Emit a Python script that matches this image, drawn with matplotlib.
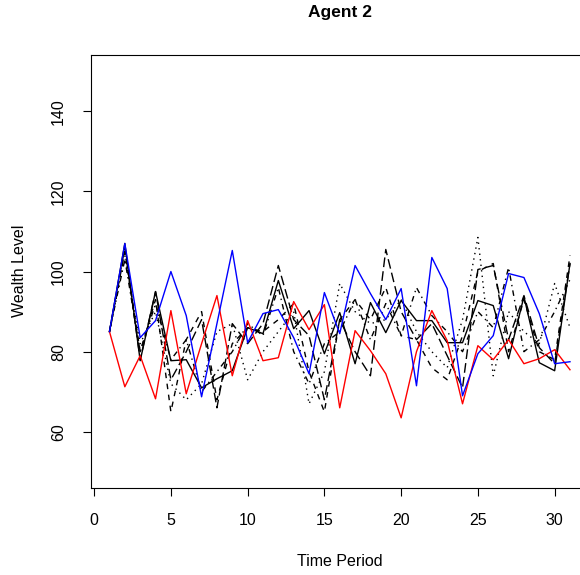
import matplotlib.pyplot as plt
import numpy as np

plt.rcParams["font.family"] = ["Liberation Sans", "DejaVu Sans"]

periods = np.arange(1, 32)

wealth_blue = [85, 107, 83.5, 87.75, 100, 89, 68.75, 87, 105.25, 82.25, 89.5, 90.5, 83.5,
               74.5, 94.75, 84.5, 101.5, 94.5, 88, 95.75, 71.5, 103.5, 95.75, 69, 79.5,
               84, 99.5, 98.5, 89.5, 77, 77.5]
wealth_red = [85, 71.25, 79, 68.25, 90.25, 69.5, 82, 94, 74, 87.75, 77.75, 78.5, 92.5,
              85.5, 91.75, 66, 85.25, 80.25, 74.5, 63.5, 80, 90.25, 82.75, 67, 81.5,
              78, 83, 77, 78.25, 80.5, 75.5]
wealth_solid = [85, 107, 77.75, 95, 77.75, 78, 71, 73.25, 75.25, 86, 84.5, 97.75, 85.75,
                90.25, 79.5, 89.75, 77, 92.25, 84.75, 92.75, 87.75, 87.75, 82.25, 82.25,
                92.75, 91.5, 78.25, 93.75, 77.25, 75.25, 102]
wealth_dashed = [85, 105, 80, 93, 65, 83, 90, 68, 82, 86, 85, 88, 92, 75, 65, 88, 93, 88,
                 96, 84, 83, 76, 73, 84, 100, 102, 80, 93, 80, 78, 104]
wealth_dotted = [85, 104, 82, 90, 72, 68, 72, 85, 87, 73, 80, 85, 90, 67, 75, 97, 90, 87,
                 88, 93, 85, 80, 76, 88, 108.5, 74, 90, 85, 82, 97, 86]
wealth_dotdash = [85, 103, 80, 92, 78, 83, 70, 75, 80, 87, 84, 96, 80, 72, 82, 85, 93, 83,
                  92, 84, 96, 89, 85, 80, 90, 86, 101, 80, 83, 90, 98]
wealth_longdash = [85, 106, 78, 95, 73, 80, 88, 66, 87, 82, 87, 101.5, 88, 84, 68, 88, 80,
                   74, 105.5, 90, 83, 87, 79, 71, 100.5, 101.5, 83, 94, 81, 77, 102]

x_ticks = [0, 5, 10, 15, 20, 25, 30]
y_ticks = [60, 80, 100, 120, 140]

fig = plt.figure(figsize=(5.8, 5.75), dpi=100)
# plot region runs past the right edge of the image, as in the original
ax = fig.add_axes([0.157, 0.1513, 0.8575, 0.7530])

lw = 1.0
ax.plot(periods, wealth_longdash, color="black", lw=lw, dashes=(7, 3))
ax.plot(periods, wealth_dotdash, color="black", lw=lw, dashes=(1, 3, 4, 3))
ax.plot(periods, wealth_dotted, color="black", lw=lw, dashes=(1, 3))
ax.plot(periods, wealth_dashed, color="black", lw=lw, dashes=(4, 4))
ax.plot(periods, wealth_solid, color="black", lw=lw)
ax.plot(periods, wealth_red, color="red", lw=lw)
ax.plot(periods, wealth_blue, color="blue", lw=lw)

ax.set_xlim(-0.2, 32.2)
ax.set_ylim(46, 154)
ax.set_xticks(x_ticks)
ax.set_yticks(y_ticks)
ax.set_xticklabels([str(v) for v in x_ticks])
ax.set_yticklabels([str(v) for v in y_ticks], rotation=90, va="center")
ax.tick_params(direction="out", length=6, width=0.8, labelsize=11.5, pad=12)
for sp in ax.spines.values():
    sp.set_linewidth(0.8)

fig.text(340 / 580, 1 - 13 / 575, "Agent 2", ha="center", va="center",
         fontsize=12.5, fontweight="bold")
fig.text(340 / 580, 1 - 561 / 575, "Time Period", ha="center", va="center", fontsize=11.5)
fig.text(20 / 580, 1 - 271 / 575, "Wealth Level", ha="center", va="center",
         rotation=90, fontsize=11.5)

fig.savefig("out.png", dpi=100)
